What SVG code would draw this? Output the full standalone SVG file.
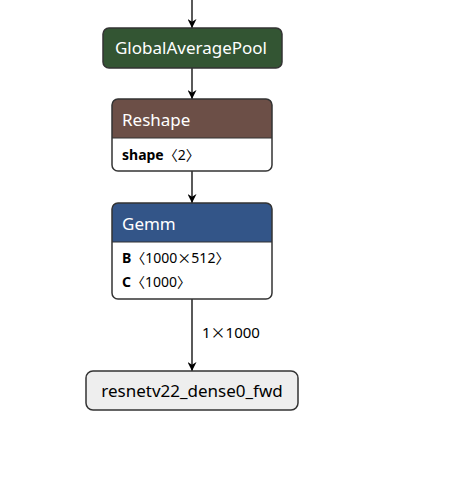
<svg xmlns="http://www.w3.org/2000/svg" width="450" height="489" viewBox="0 0 450 489">
<style>
.t{font-family:"Noto Sans","Open Sans",sans-serif;}
.cjk{font-family:"Noto Sans CJK SC",sans-serif;}
.hdr{font-size:17px;fill:#fff;}
.attr{font-size:14px;fill:#000;}
.an{font-weight:bold;}
.border{fill:none;stroke:#333;stroke-width:1.5;}
.edge{stroke:#000;stroke-width:1.3;fill:none;marker-end:url(#arr);}
.lbl{font-size:15px;fill:#000;}
</style>
<defs>
<marker id="arr" viewBox="0 0 10 10" refX="10" refY="5" markerWidth="9" markerHeight="9" markerUnits="userSpaceOnUse" orient="auto">
<path d="M0,0 L10,5 L0,10 L3,5 z" fill="#000"/>
</marker>
</defs>
<g id="edges">
<line class="edge" x1="192" y1="0" x2="192" y2="28"/>
<line class="edge" x1="192" y1="68" x2="192" y2="99"/>
<line class="edge" x1="192" y1="171" x2="192" y2="203"/>
<line class="edge" x1="192" y1="299" x2="192" y2="371"/>
<text class="t lbl" x="202" y="338">1<tspan class="cjk">×</tspan>1000</text>
</g>
<g id="node-gap">
<rect x="103" y="28" width="179" height="40" rx="6" fill="#335533" stroke="#333" stroke-width="1.5"/>
<text class="t hdr" x="191" y="54" text-anchor="middle">GlobalAveragePool</text>
</g>
<g id="node-reshape">
<path d="M112,138 V105 Q112,99 118,99 H266 Q272,99 272,105 V138 Z" fill="#6c4f47"/>
<path d="M112,138 H272 V165 Q272,171 266,171 H118 Q112,171 112,165 Z" fill="#fff"/>
<line x1="112" y1="138" x2="272" y2="138" stroke="#333" stroke-width="1"/>
<rect class="border" x="112" y="99" width="160" height="72" rx="6"/>
<text class="t hdr" x="122" y="126">Reshape</text>
<text class="t attr" x="122" y="160"><tspan class="an">shape</tspan><tspan class="cjk">〈</tspan>2<tspan class="cjk">〉</tspan></text>
</g>
<g id="node-gemm">
<path d="M112,242 V209 Q112,203 118,203 H266 Q272,203 272,209 V242 Z" fill="#335588"/>
<path d="M112,242 H272 V293 Q272,299 266,299 H118 Q112,299 112,293 Z" fill="#fff"/>
<line x1="112" y1="242" x2="272" y2="242" stroke="#333" stroke-width="1"/>
<rect class="border" x="112" y="203" width="160" height="96" rx="6"/>
<text class="t hdr" x="122" y="230">Gemm</text>
<text class="t attr" x="122" y="263"><tspan class="an">B</tspan><tspan class="cjk">〈</tspan>1000<tspan class="cjk">×</tspan>512<tspan class="cjk">〉</tspan></text>
<text class="t attr" x="122" y="287"><tspan class="an">C</tspan><tspan class="cjk">〈</tspan>1000<tspan class="cjk">〉</tspan></text>
</g>
<g id="node-output">
<rect x="86" y="371" width="212" height="39" rx="7" fill="#eee" stroke="#333" stroke-width="1.5"/>
<text class="t" x="192" y="397" text-anchor="middle" font-size="17" fill="#000">resnetv22_dense0_fwd</text>
</g>
</svg>
